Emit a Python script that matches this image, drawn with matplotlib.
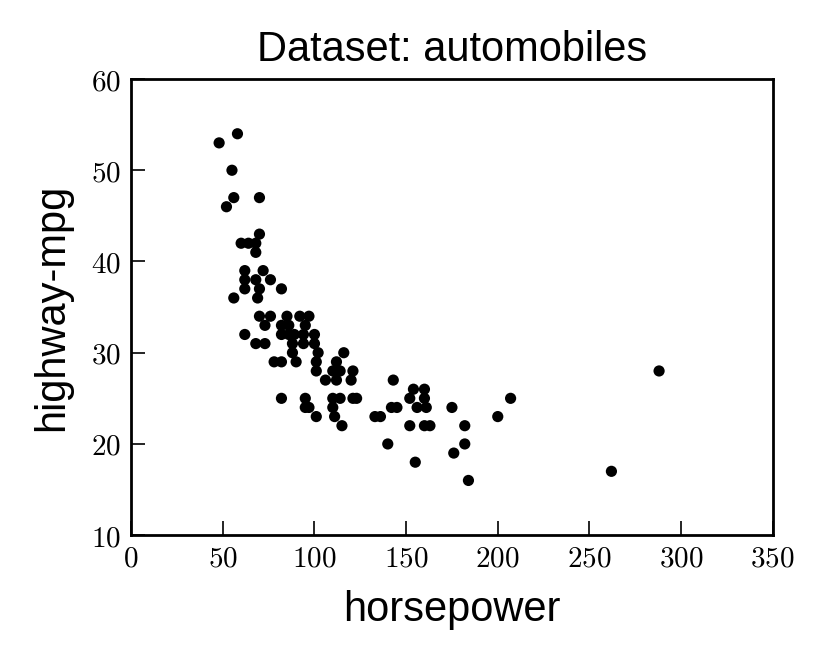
import matplotlib
matplotlib.use("Agg")
import matplotlib.pyplot as plt
from matplotlib.ticker import FuncFormatter

plt.rcParams['mathtext.fontset'] = 'cm'
plt.rcParams['font.family'] = ['Liberation Sans', 'DejaVu Sans']

# horsepower vs highway-mpg
horsepower = [48, 58, 55, 56, 70, 52, 70, 60, 64, 68, 68, 62, 72, 62, 68, 76,
              62, 70, 82, 56, 69, 70, 76, 85, 92, 97, 73, 82, 86, 95, 62, 82,
              86, 89, 94, 100, 68, 73, 88, 94, 100, 88, 102, 116, 78, 82, 90,
              101, 112, 101, 110, 114, 121, 106, 112, 120, 143, 82, 95, 110,
              114, 121, 123, 95, 97, 110, 101, 111, 115, 133, 136, 154, 160,
              152, 160, 142, 145, 156, 161, 175, 152, 160, 163, 182, 140, 182,
              176, 155, 184, 200, 207, 262, 288]
highway_mpg = [53, 54, 50, 47, 47, 46, 43, 42, 42, 42, 41, 39, 39, 38, 38, 38,
               37, 37, 37, 36, 36, 34, 34, 34, 34, 34, 33, 33, 33, 33, 32, 32,
               32, 32, 32, 32, 31, 31, 31, 31, 31, 30, 30, 30, 29, 29, 29,
               29, 29, 28, 28, 28, 28, 27, 27, 27, 27, 25, 25, 25,
               25, 25, 25, 24, 24, 24, 23, 23, 22, 23, 23, 26, 26,
               25, 25, 24, 24, 24, 24, 24, 22, 22, 22, 22, 20, 20,
               19, 18, 16, 23, 25, 17, 28]

fig = plt.figure(figsize=(8.3, 6.64), dpi=100)
ax = fig.add_axes([0.158, 0.194, 0.773, 0.687])
ax.scatter(horsepower, highway_mpg, s=65, color='black', edgecolors='none')

ax.set_xlim(0, 350)
ax.set_ylim(10, 60)
ax.set_xticks(range(0, 351, 50))
ax.set_yticks(range(10, 61, 10))
fmt = FuncFormatter(lambda v, p: r'$%d$' % v)
ax.xaxis.set_major_formatter(fmt)
ax.yaxis.set_major_formatter(fmt)
ax.tick_params(direction='in', length=10, width=1.2, labelsize=21,
               top=False, right=False, pad=7)
for s in ax.spines.values():
    s.set_linewidth(2)

ax.set_title("Dataset: automobiles", fontsize=30, pad=13)
ax.set_xlabel("horsepower", fontsize=30, labelpad=12)
ax.set_ylabel("highway-mpg", fontsize=30, labelpad=14)

fig.savefig("out.png", dpi=100)
